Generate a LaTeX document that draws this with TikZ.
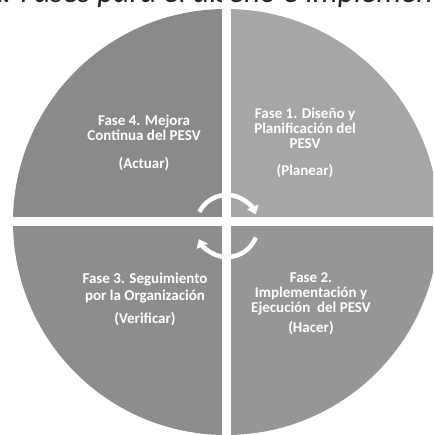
\documentclass[tikz,border=0pt]{standalone}
\usepackage{fontspec}
\setmainfont{Carlito}
\usetikzlibrary{arrows.meta}
\definecolor{qone}{RGB}{166,166,166}
\definecolor{qtwo}{RGB}{150,150,150}
\definecolor{qthree}{RGB}{141,141,141}
\definecolor{qfour}{RGB}{138,138,138}
\begin{document}
\begin{tikzpicture}[x=1pt, y=1pt,
        fase/.style={anchor=north, align=center, inner sep=0pt, text=white,
            font=\fontsize{15}{15}\selectfont\bfseries},
        ciclo/.style={white, line width=4.5pt, -{Triangle[width=12pt, length=8pt]}}]
        \useasboundingbox (0,0) rectangle (433,435);
        \clip (0,0) rectangle (433,435);
        % Title
        \node[anchor=base west, inner sep=0pt, text=black!85,
            font=\fontsize{31.5}{33}\selectfont\itshape] (titulo) at (-13,432)
            {1. Fases para el diseño e implementación del PESV};
        % Quadrants
        \coordinate (centro) at (226,213);
        \foreach \a/\c in {0/qone, 90/qfour, 180/qthree, 270/qtwo}
        {
            \fill[\c] (centro) -- ++(\a:213)
                arc [radius = 213, start angle = \a, end angle = \a+90] -- cycle;
        }
        % Gaps
        \fill[white] (221.5,0) rectangle (230.5,435);
        \fill[white] (0,209) rectangle (433,218);
        % Text
        \node[fase] (fase4) at (144,320)
            {Fase 4. Mejora\\Continua del PESV\\[13pt](Actuar)};
        \node[fase] (fase1) at (305,327)
            {Fase 1. Diseño y\\Planificación del\\PESV\\[12pt](Planear)};
        \node[fase] (fase3) at (145,162)
            {Fase 3. Seguimiento\\[2pt]por la Organización\\[8pt](Verificar)};
        \node[fase] (fase2) at (311,163)
            {Fase 2.\\Implementación y\\Ejecución~ del PESV\\[5pt](Hacer)};
        % Arrows
        \coordinate (giro) at (227,209);
        \draw[ciclo] (giro) ++(153:31) arc [radius = 31, start angle = 153, end angle = 22];
        \draw[ciclo] (giro) ++(-22:31) arc [radius = 31, start angle = -22, end angle = -155];
\end{tikzpicture}
\end{document}
